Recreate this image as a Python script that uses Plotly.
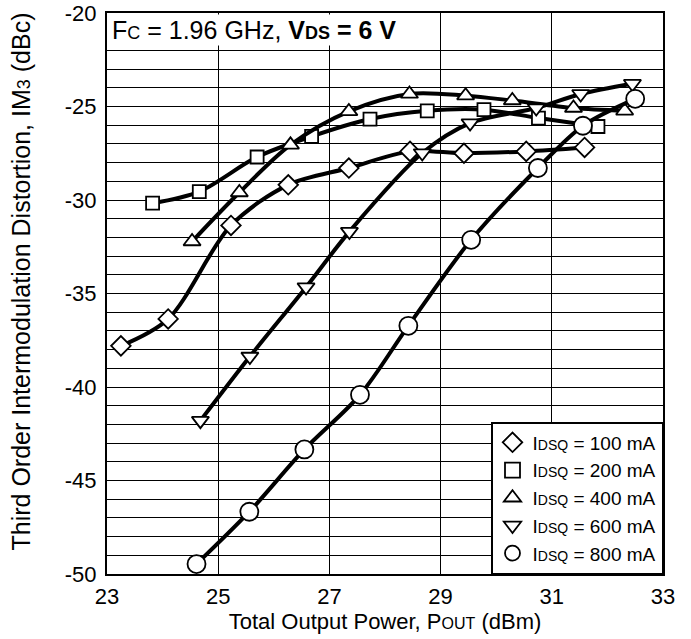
import plotly.graph_objects as go

# ---- data ----
labels = ["100", "200", "400", "600", "800"]
symbols = ["diamond", "square", "triangle-up", "triangle-down", "circle"]
sizes = [15, 13, 15, 15, 18]

x_100 = [23.25, 24.10, 25.23, 26.26, 27.35, 28.45, 29.42, 30.54, 31.59]
y_100 = [-37.80, -36.36, -31.36, -29.19, -28.29, -27.40, -27.50, -27.40, -27.19]

x_200 = [23.82, 24.66, 25.70, 26.68, 27.73, 28.76, 29.78, 30.76, 31.83]
y_200 = [-30.17, -29.55, -27.70, -26.60, -25.67, -25.23, -25.17, -25.62, -26.07]

x_400 = [24.53, 25.38, 26.30, 27.35, 28.44, 29.45, 30.29, 31.39, 32.31]
y_400 = [-32.22, -29.60, -27.05, -25.26, -24.33, -24.42, -24.68, -25.08, -25.23]

x_600 = [24.68, 25.57, 26.58, 27.36, 28.67, 29.53, 30.72, 31.52, 32.45]
y_600 = [-41.80, -38.37, -34.66, -31.69, -27.49, -25.89, -25.08, -24.33, -23.78]

x_800 = [24.61, 25.56, 26.55, 27.55, 28.42, 29.55, 30.75, 31.56, 32.50]
y_800 = [-49.47, -46.67, -43.34, -40.42, -36.73, -32.13, -28.29, -26.03, -24.59]

xs = [x_100, x_200, x_400, x_600, x_800]
ys = [y_100, y_200, y_400, y_600, y_800]

x_ticks = [23, 25, 27, 29, 31, 33]
y_grid = [v for v in range(-50, -19) if v != -21]
y_ticktext = [str(v) if v % 5 == 0 else "" for v in y_grid]

FONT = "Liberation Sans, Arial, sans-serif"

def small(t, px):
    return "<span style='font-size:%dpx'>%s</span>" % (px, t)

fig = go.Figure()

for xv, yv, sym, sz in zip(xs, ys, symbols, sizes):
    fig.add_trace(go.Scatter(
        x=xv, y=yv, mode="lines+markers", showlegend=False,
        line=dict(color="black", width=4, shape="spline", smoothing=0.9),
        marker=dict(symbol=sym, size=sz, color="white",
                    line=dict(color="black", width=1.8)),
    ))

# legend-only entries (marker symbols without lines)
for lab, sym in zip(labels, symbols):
    fig.add_trace(go.Scatter(
        x=[None], y=[None], mode="markers",
        name="I" + small("DSQ", 14) + " = " + lab + " mA",
        marker=dict(symbol=sym, size=15, color="white",
                    line=dict(color="black", width=1.8)),
    ))

fig.add_annotation(
    xref="paper", yref="paper", x=0, y=1, xanchor="left", yanchor="top",
    xshift=3, yshift=-1,
    text="F" + small("C", 18) + " = 1.96 GHz, <b>V" + small("DS", 18) + " = 6 V</b>",
    showarrow=False, font=dict(family=FONT, size=25, color="black"),
    bgcolor="white", borderpad=1, align="left",
)

# y-axis title (as rotated text, positioned like the reference)
fig.add_annotation(
    xref="paper", yref="paper", x=0, y=0.5, xanchor="center", yanchor="middle",
    xshift=-87, yshift=12, textangle=-90,
    text="Third Order Intermodulation Distortion, IM" + small("3", 18) + " (dBc)",
    showarrow=False, font=dict(family=FONT, size=25, color="black"),
)

fig.update_layout(
    width=691, height=639,
    margin=dict(l=107, r=28, t=13, b=65),
    paper_bgcolor="white", plot_bgcolor="white",
    font=dict(family=FONT, size=20, color="black"),
    hovermode=False,
    legend=dict(
        x=1, y=0, xanchor="right", yanchor="bottom",
        bgcolor="white", bordercolor="black", borderwidth=1.5,
        font=dict(family=FONT, size=19, color="black"),
        tracegroupgap=0, itemsizing="trace",
    ),
    xaxis=dict(
        range=[23, 33], tickvals=x_ticks, ticktext=[str(v) for v in x_ticks],
        showgrid=True, gridcolor="black", gridwidth=1,
        showline=True, linecolor="black", linewidth=2, mirror=True,
        zeroline=False, ticks="", ticklabelstandoff=2, automargin=False,
        ticklabeloverflow="allow",
        title=dict(text="Total Output Power, P" + small("OUT", 16) + " (dBm)",
                   font=dict(family=FONT, size=22), standoff=4),
        tickfont=dict(family=FONT, size=22),
    ),
    yaxis=dict(
        range=[-50, -20], tickvals=y_grid, ticktext=y_ticktext,
        showgrid=True, gridcolor="black", gridwidth=1,
        showline=True, linecolor="black", linewidth=2, mirror=True,
        zeroline=False, ticks="", ticklabelstandoff=4, automargin=False,
        ticklabeloverflow="allow",
        tickfont=dict(family=FONT, size=22),
    ),
)

# remove the browser's default 8px page margin so the figure sits at (0, 0)
fig.write_html("out.html",
               config={"displayModeBar": False, "staticPlot": True},
               post_script="document.body.style.margin='0';")
